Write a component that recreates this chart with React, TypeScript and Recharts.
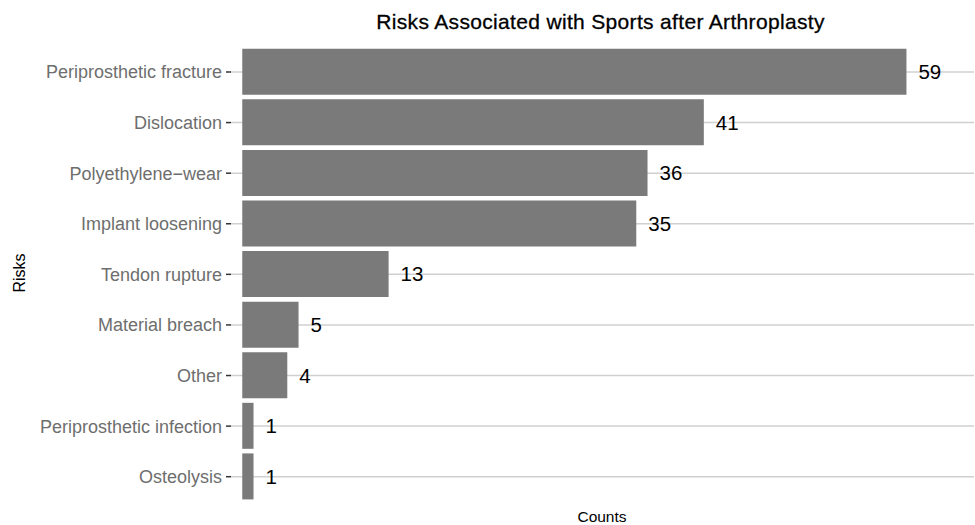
import React from "react";
import { BarChart, Bar, XAxis, YAxis, CartesianGrid, LabelList } from "recharts";

// Risk categories, top to bottom
const risks = [
  "Periprosthetic fracture",
  "Dislocation",
  "Polyethylene\u2212wear",
  "Implant loosening",
  "Tendon rupture",
  "Material breach",
  "Other",
  "Periprosthetic infection",
  "Osteolysis",
];

// Number of reports per risk
const counts = [59, 41, 36, 35, 13, 5, 4, 1, 1];

const data = risks.map((name, i) => ({ name, count: counts[i] }));

const FONT = "'Liberation Sans', Arial, Helvetica, sans-serif";

// Grid lines only through the middle of each category band
const categoryCenters = (props: any) => {
  const off = props?.offset ?? {};
  const top = off.top ?? 0;
  const height = off.height ?? 0;
  return risks.map((_, i) => top + ((i + 0.5) * height) / risks.length);
};

export default function App() {
  return (
    <div style={{ position: "absolute", left: 0, top: 0, width: 975, height: 525, background: "#fff" }}>
      <BarChart
        width={975}
        height={525}
        data={data}
        layout="vertical"
        margin={{ top: 46.7, right: 1, bottom: 23, left: 0 }}
        barSize={46}
      >
        <CartesianGrid
          horizontal
          vertical={false}
          stroke="#d0d0d0"
          strokeWidth={1.5}
          horizontalCoordinatesGenerator={categoryCenters}
        />
        <XAxis type="number" domain={[-1, 65]} hide allowDataOverflow />
        <YAxis
          type="category"
          dataKey="name"
          width={231}
          axisLine={false}
          tickSize={5}
          tickMargin={4}
          tickLine={{ stroke: "#333333", strokeWidth: 1.5 }}
          tick={{ fill: "#6e6e6e", fontSize: 18, fontFamily: FONT }}
          interval={0}
        />
        <Bar dataKey="count" fill="#7a7a7a" isAnimationActive={false}>
          <LabelList
            dataKey="count"
            position="right"
            offset={12}
            fill="#000000"
            fontSize={20.5}
            fontFamily={FONT}
          />
        </Bar>
      </BarChart>
      <svg
        width={975}
        height={525}
        style={{ position: "absolute", left: 0, top: 0, pointerEvents: "none" }}
      >
        <text
          x={600.5}
          y={29}
          textAnchor="middle"
          fontSize={21}
          letterSpacing={0.33}
          fontFamily={FONT}
          fill="#000"
          stroke="#000"
          strokeWidth={0.3}
        >
          Risks Associated with Sports after Arthroplasty
        </text>
        <text x={602} y={522} textAnchor="middle" fontSize={15.5} fontFamily={FONT} fill="#000">
          Counts
        </text>
        <text
          x={25}
          y={273}
          textAnchor="middle"
          fontSize={16}
          fontFamily={FONT}
          fill="#000"
          transform="rotate(-90 25 273)"
        >
          Risks
        </text>
      </svg>
    </div>
  );
}
